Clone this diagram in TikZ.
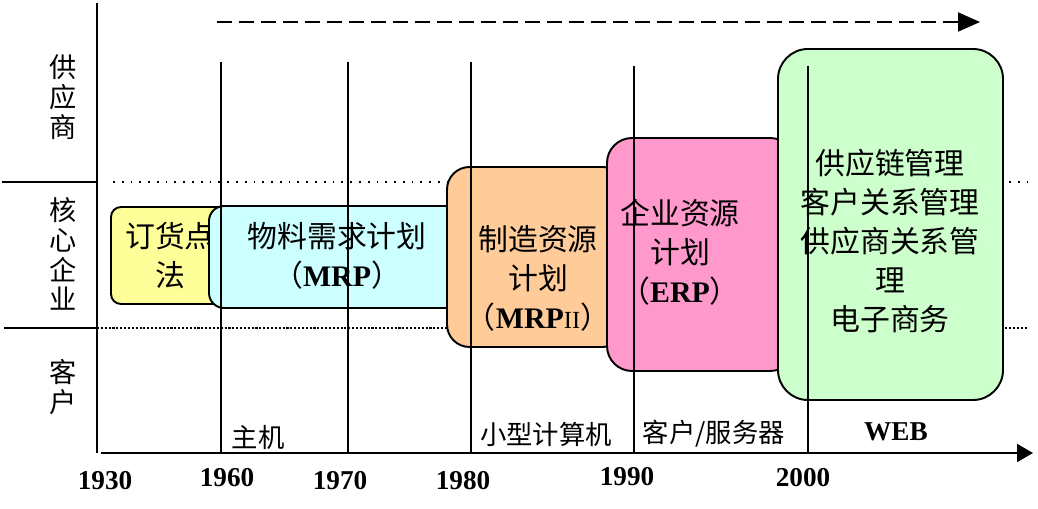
\documentclass[tikz,border=0pt]{standalone}
\usepackage{fontspec}
\setmainfont{Liberation Serif}
\newfontfamily\cjk{Noto Sans CJK SC}
\newcommand{\acro}[1]{{\rmfamily\bfseries #1}}
\usetikzlibrary{arrows.meta}
\definecolor{dhdfill}{HTML}{FFFF99}
\definecolor{mrpfill}{HTML}{CCFFFF}
\definecolor{mrptwofill}{HTML}{FFCC99}
\definecolor{erpfill}{HTML}{FF99CC}
\definecolor{scmfill}{HTML}{CCFFCC}
\tikzset{
  stagebox/.style={draw,line width=1.1pt},
  stagetext/.style={align=center,inner sep=0pt,font={\cjk\fontsize{17}{22.2}\selectfont}},
  sidetext/.style={align=center,inner sep=0pt,font={\cjk\fontsize{15.5}{17}\selectfont}},
  techtext/.style={inner sep=0pt,font={\cjk\fontsize{15}{18}\selectfont}},
  yeartext/.style={inner sep=0pt,font={\rmfamily\bfseries\fontsize{15.5}{18}\selectfont}},
  yearline/.style={line width=.8pt}
}
\begin{document}
\begin{tikzpicture}[x=.02cm,y=-.02cm,line width=1.1pt]
  \useasboundingbox (0,0) rectangle (1038,509);
  \coordinate (O) at (97,453);
  \coordinate (ytop) at (97,3);
  \coordinate (xend) at (1033,453);
  \coordinate (trendA) at (217,22);
  \coordinate (trendB) at (980,22);
  % lanes: supplier / core enterprise / customer
  \draw (2,182) -- (97,182);
  \draw (4,328) -- (97,328);
  \draw[line width=.7pt,dash pattern=on 1pt off 4pt] (113,182) -- (1028,182);
  \draw[line width=.7pt,dash pattern=on 1.2pt off 1pt] (97,328) -- (1028,328);
  \draw[dash pattern=on .3cm off .14cm,-{Triangle[length=.44cm,width=.38cm]}] (trendA) -- (trendB);
  \node[sidetext] (supplier) at (63,97) {供\\应\\商};
  \node[sidetext] (core) at (63,254) {核\\心\\企\\业};
  \node[sidetext] (customer) at (63,387) {客\\户};
  % stages, each one laid over the one before
  \draw[stagebox,fill=dhdfill,rounded corners=.2cm] (111,207) rectangle (228,304);
  \node[stagetext] (rop) at (170,256) {订货点\\法};
  \draw[stagebox,fill=mrpfill,rounded corners=.3cm] (209,206) rectangle (460,308);
  \draw[stagebox,fill=mrptwofill,rounded corners=.45cm] (447,167) rectangle (625,347);
  \draw[stagebox,fill=erpfill,rounded corners=.5cm] (607,138) rectangle (795,371);
  \draw[stagebox,fill=scmfill,rounded corners=.6cm] (778,49) rectangle (1003,400);
  \node[stagetext] (mrp) at (337,256) {物料需求计划\\（\acro{MRP}）};
  \node[stagetext] (mrptwo) at (538,278) {制造资源\\计划\\（\acro{MRP}{\rmfamily\fontsize{14}{14}\selectfont II}）};
  \node[stagetext] (erp) at (680,252) {企业资源\\计划\\（\acro{ERP}）};
  \node[stagetext] (scm) at (890,241) {供应链管理\\客户关系管理\\供应商关系管\\理\\电子商务};
  % decade lines
  \foreach \x/\top in {221/62,348/62,471/62,634/66,808/66}
    \draw[yearline] (\x,\top) -- (\x,453);
  \draw (ytop) -- (O);
  \draw[-{Triangle[length=.32cm,width=.36cm]}] (101,453) -- (xend);
  \foreach \x/\y/\yr in {105/481/1930,227/478/1960,340/481/1970,463/481/1980,627/477/1990,803/478/2000}
    \node[yeartext] (y\yr) at (\x,\y) {\yr};
  \node[techtext] (mainframe) at (258,437) {主机};
  \node[techtext] (minicomp) at (546,434) {小型计算机};
  \node[techtext] (clientsrv) at (714,434) {客户/服务器};
  \node[yeartext] (web) at (896,432) {WEB};
\end{tikzpicture}
\end{document}
